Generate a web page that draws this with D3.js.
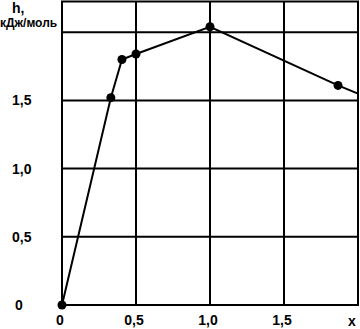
<!DOCTYPE html>
<html>
<head>
<meta charset="utf-8">
<script src="https://cdn.jsdelivr.net/npm/d3@7"></script>
<style>
  body { margin: 0; background: #fff; }
  text { font-family: "Liberation Sans", Arial, sans-serif; font-weight: bold; fill: #000; }
</style>
</head>
<body>
<svg id="chart"></svg>
<script>
// measured points (x, h in kJ/mol)
const xs = [0, 0.33, 0.405, 0.5, 1.0, 1.865];
const hs = [0, 1.52, 1.80, 1.84, 2.04, 1.61];
// line keeps going past the last point up to the frame
const tailX = 2.0, tailH = 1.55;

const xTicks = [0, 0.5, 1.0, 1.5];
const yTicks = [0, 0.5, 1.0, 1.5, 2.0];
const xTickLabels = ["0", "0,5", "1,0", "1,5"];
const yTickLabels = ["0", "0,5", "1,0", "1,5", ""];

const width = 360, height = 329;
const svg = d3.select("#chart")
    .attr("width", width)
    .attr("height", height);

const x = d3.scaleLinear().domain([0, 2.0]).range([62, 358]);
const y = d3.scaleLinear().domain([0, 2.225]).range([305, 1.5]);

// grid
svg.append("g")
    .selectAll("line")
    .data(yTicks.slice(1))
    .join("line")
    .attr("x1", x(0)).attr("x2", x(2.0))
    .attr("y1", d => y(d)).attr("y2", d => y(d))
    .style("stroke", "#000").style("stroke-width", 2);

svg.append("g")
    .selectAll("line")
    .data(xTicks.slice(1))
    .join("line")
    .attr("x1", d => x(d)).attr("x2", d => x(d))
    .attr("y1", y(0)).attr("y2", y(2.225))
    .style("stroke", "#000").style("stroke-width", 2);

// frame
svg.append("rect")
    .attr("x", x(0)).attr("y", y(2.225))
    .attr("width", x(2.0) - x(0))
    .attr("height", y(0) - y(2.225))
    .style("fill", "none").style("stroke", "#000").style("stroke-width", 2);

// tick labels
svg.append("g")
    .selectAll("text")
    .data(xTicks)
    .join("text")
    .attr("x", d => x(d) - 2)
    .attr("y", 325)
    .attr("text-anchor", "middle")
    .style("font-size", "14px")
    .text((d, i) => xTickLabels[i]);

svg.append("g")
    .selectAll("text")
    .data(yTicks)
    .join("text")
    .attr("x", d => d === 0 ? 15 : 12)
    .attr("y", d => y(d))
    .attr("dy", "0.36em")
    .style("font-size", "14px")
    .text((d, i) => yTickLabels[i]);

// axis titles
svg.append("text").attr("x", 12).attr("y", 13)
    .style("font-size", "14px").text("h,");
svg.append("text").attr("x", 0).attr("y", 27)
    .style("font-size", "12px").text("кДж/моль");
svg.append("text").attr("x", 352).attr("y", 326)
    .attr("text-anchor", "middle")
    .style("font-size", "14px").text("x");

// curve
const pts = xs.map((d, i) => [d, hs[i]]);
const linePts = pts.concat([[tailX, tailH]]);

svg.append("path")
    .datum(linePts)
    .attr("d", d3.line().x(d => x(d[0])).y(d => y(d[1])))
    .style("fill", "none").style("stroke", "#000").style("stroke-width", 2);

svg.append("g")
    .selectAll("circle")
    .data(pts)
    .join("circle")
    .attr("cx", d => x(d[0]))
    .attr("cy", d => y(d[1]))
    .attr("r", 4.5)
    .style("fill", "#000");
</script>
</body>
</html>
